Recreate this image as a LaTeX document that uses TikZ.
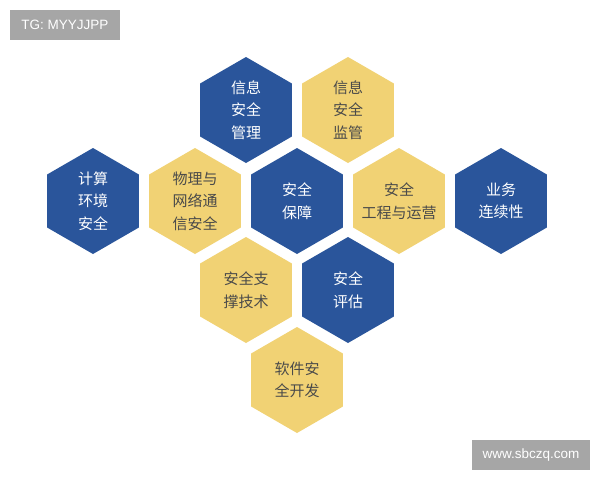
\documentclass[tikz,border=0pt]{standalone}
\usepackage{fontspec}
\setmainfont{Liberation Sans}
\newfontfamily\cjk{Noto Sans CJK SC}
\usetikzlibrary{shapes.geometric}
\definecolor{hexblue}{HTML}{2A559B}
\definecolor{hexyellow}{HTML}{F1D274}
\definecolor{hextext}{HTML}{4A4A4A}
\definecolor{tagbg}{HTML}{A6A6A6}
\tikzset{
  hexcell/.style={regular polygon, regular polygon sides=6, shape border rotate=30,
    minimum size=106pt, inner sep=0pt, draw=none},
  hexlabel/.style={align=center, inner sep=0pt, font=\cjk\fontsize{15}{22.5}\selectfont},
  bluehex/.style={hexcell, fill=hexblue},
  yellowhex/.style={hexcell, fill=hexyellow},
  bluetext/.style={hexlabel, text=white},
  yellowtext/.style={hexlabel, text=hextext},
  tagbox/.style={fill=tagbg, text=white, inner sep=0pt, font=\fontsize{13.5}{15}\selectfont}
}
\begin{document}
\begin{tikzpicture}[x=1pt,y=-1pt]
\useasboundingbox (0,0) rectangle (600,480);
\fill[white] (0,0) rectangle (600,480);
% row 1
\node[bluehex] (h1) at (246,110) {};
\node[bluetext] (t1) at (h1.center) {信息\\安全\\管理};
\node[yellowhex] (h2) at (348,110) {};
\node[yellowtext] (t2) at (h2.center) {信息\\安全\\监管};
% row 2
\node[bluehex] (h3) at (93,201) {};
\node[bluetext] (t3) at (h3.center) {计算\\环境\\安全};
\node[yellowhex] (h4) at (195,201) {};
\node[yellowtext] (t4) at (h4.center) {物理与\\网络通\\信安全};
\node[bluehex] (h5) at (297,201) {};
\node[bluetext] (t5) at (h5.center) {安全\\保障};
\node[yellowhex] (h6) at (399,201) {};
\node[yellowtext] (t6) at (h6.center) {安全\\工程与运营};
\node[bluehex] (h7) at (501,201) {};
\node[bluetext] (t7) at (h7.center) {业务\\连续性};
% row 3
\node[yellowhex] (h8) at (246,290) {};
\node[yellowtext] (t8) at (h8.center) {安全支\\撑技术};
\node[bluehex] (h9) at (348,290) {};
\node[bluetext] (t9) at (h9.center) {安全\\评估};
% row 4
\node[yellowhex] (h10) at (297,380) {};
\node[yellowtext] (t10) at (h10.center) {软件安\\全开发};
% tags
\node[tagbox, minimum width=110pt, minimum height=30pt] (tg) at (65,25) {TG: MYYJJPP};
\node[tagbox, minimum width=118pt, minimum height=30pt] (www) at (531,455) {www.sbczq.com};
\end{tikzpicture}
\end{document}
